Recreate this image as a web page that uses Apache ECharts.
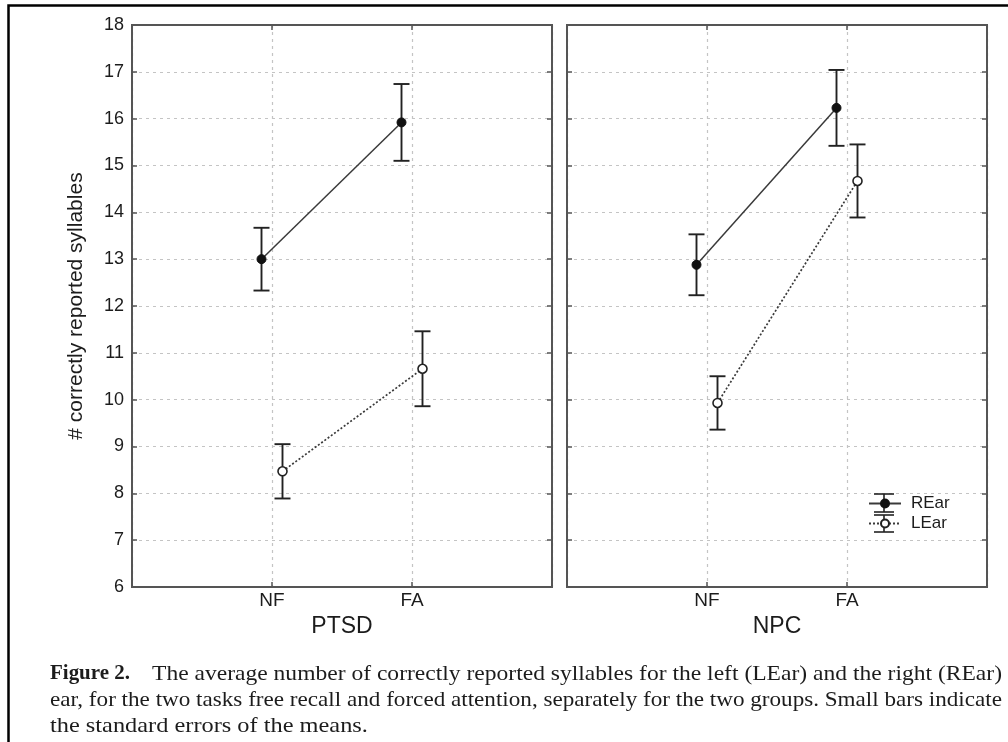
<!DOCTYPE html>
<html>
<head>
<meta charset="utf-8">
<script src="https://cdn.jsdelivr.net/npm/echarts@6/dist/echarts.min.js"></script>
<style>
html,body{margin:0;padding:0;background:#fff;}
#chart{width:1008px;height:742px;}
</style>
</head>
<body>
<div id="chart"></div>
<script>
// ---- data ----
const categories = ['NF', 'FA'];
const groups = ['PTSD', 'NPC'];
const seriesNames = ['REar', 'LEar'];
const yMin = 6, yMax = 18, yStep = 1;

const ptsdREar = [13.00, 15.92];
const ptsdREarSE = [0.67, 0.82];
const ptsdLEar = [8.47, 10.66];
const ptsdLEarSE = [0.58, 0.80];

const npcREar = [12.88, 16.23];
const npcREarSE = [0.65, 0.81];
const npcLEar = [9.93, 14.67];
const npcLEarSE = [0.57, 0.78];

const yLabel = '# correctly reported syllables';
const captionBold = 'Figure 2.';
const captionLine1 = 'The average number of correctly reported syllables for the left (LEar) and the right (REar)';
const captionLine2 = 'ear, for the two tasks free recall and forced attention, separately for the two groups. Small bars indicate';
const captionLine3 = 'the standard errors of the means.';

// ---- build ----
const chart = echarts.init(document.getElementById('chart'), null, {renderer: 'canvas'});
const dodge = 0.075;
const ink = '#1c1c1c';
const axisCol = '#555';
const gridCol = '#c4c4c4';
const gridLefts = [132, 567];
const gridW = 420, gridTop = 25, gridH = 562;

const grids = gridLefts.map(l => ({left: l, top: gridTop, width: gridW, height: gridH, show: false}));

const xAxes = [], yAxes = [];
groups.forEach((g, gi) => {
  xAxes.push({
    type: 'value', gridIndex: gi, min: 0, max: categories.length + 1, interval: 1,
    position: 'bottom',
    name: g, nameLocation: 'middle', nameGap: 28,
    nameTextStyle: {fontFamily: 'Liberation Sans', fontSize: 23, color: ink},
    axisLine: {show: true, onZero: false, lineStyle: {color: axisCol, width: 2}},
    axisTick: {show: true, inside: true, length: 5, lineStyle: {color: axisCol, width: 1.5}},
    axisLabel: {margin: 4, fontFamily: 'Liberation Sans', fontSize: 19, color: ink,
      formatter: v => (v >= 1 && v <= categories.length) ? categories[v - 1] : ''},
    splitLine: {show: true, lineStyle: {color: gridCol, type: [3, 4], width: 1.2}}
  });
  xAxes.push({
    type: 'value', gridIndex: gi, min: 0, max: categories.length + 1, interval: 1,
    position: 'top',
    axisLine: {show: true, onZero: false, lineStyle: {color: axisCol, width: 2}},
    axisTick: {show: true, inside: true, length: 5, lineStyle: {color: axisCol, width: 1.5}},
    axisLabel: {show: false}, splitLine: {show: false}
  });
  yAxes.push({
    type: 'value', gridIndex: gi, min: yMin, max: yMax, interval: yStep,
    position: 'left',
    name: gi === 0 ? yLabel : '', nameLocation: 'middle', nameGap: 45,
    nameTextStyle: {fontFamily: 'Liberation Sans', fontSize: 21, color: ink},
    axisLine: {show: true, onZero: false, lineStyle: {color: axisCol, width: 2}},
    axisTick: {show: true, inside: true, length: 5, lineStyle: {color: axisCol, width: 1.5}},
    axisLabel: {show: gi === 0, margin: 8, fontFamily: 'Liberation Sans', fontSize: 18, color: ink},
    splitLine: {show: true, lineStyle: {color: gridCol, type: [3, 4], width: 1.2}}
  });
  yAxes.push({
    type: 'value', gridIndex: gi, min: yMin, max: yMax, interval: yStep,
    position: 'right',
    axisLine: {show: true, onZero: false, lineStyle: {color: axisCol, width: 2}},
    axisTick: {show: true, inside: true, length: 5, lineStyle: {color: axisCol, width: 1.5}},
    axisLabel: {show: false}, splitLine: {show: false}
  });
});

const panels = [
  {gi: 0, r: ptsdREar, rse: ptsdREarSE, l: ptsdLEar, lse: ptsdLEarSE},
  {gi: 1, r: npcREar, rse: npcREarSE, l: npcLEar, lse: npcLEarSE}
];

function errSeries(vals, se, off, gi) {
  return {
    type: 'custom', xAxisIndex: gi * 2, yAxisIndex: gi * 2, z: 3, silent: true,
    encode: {x: 0, y: [1, 2]},
    data: vals.map((v, i) => [i + 1 + off, v - se[i], v + se[i]]),
    renderItem: (params, api) => {
      const x = api.value(0);
      const lo = api.coord([x, api.value(1)]);
      const hi = api.coord([x, api.value(2)]);
      const w = 8;
      const st = {stroke: '#222', lineWidth: 1.9};
      return {type: 'group', children: [
        {type: 'line', shape: {x1: lo[0], y1: lo[1], x2: hi[0], y2: hi[1]}, style: st},
        {type: 'line', shape: {x1: lo[0] - w, y1: lo[1], x2: lo[0] + w, y2: lo[1]}, style: st},
        {type: 'line', shape: {x1: hi[0] - w, y1: hi[1], x2: hi[0] + w, y2: hi[1]}, style: st}
      ]};
    }
  };
}

const series = [];
panels.forEach(p => {
  series.push(errSeries(p.r, p.rse, -dodge, p.gi));
  series.push(errSeries(p.l, p.lse, dodge, p.gi));
  series.push({
    name: seriesNames[0], type: 'line', xAxisIndex: p.gi * 2, yAxisIndex: p.gi * 2, z: 5,
    data: p.r.map((v, i) => [i + 1 - dodge, v]),
    symbol: 'circle', symbolSize: 9,
    itemStyle: {color: '#111', borderColor: '#111', borderWidth: 1},
    lineStyle: {color: '#3a3a3a', width: 1.5, type: 'solid'},
    emphasis: {disabled: true}
  });
  series.push({
    name: seriesNames[1], type: 'line', xAxisIndex: p.gi * 2, yAxisIndex: p.gi * 2, z: 5,
    data: p.l.map((v, i) => [i + 1 + dodge, v]),
    symbol: 'circle', symbolSize: 9,
    itemStyle: {color: '#fff', borderColor: '#222', borderWidth: 1.6},
    lineStyle: {color: '#3a3a3a', width: 1.7, type: [2, 2]},
    emphasis: {disabled: true}
  });
});

// caption helpers
const mctx = document.createElement('canvas').getContext('2d');
function measure(text, font) { mctx.font = font; return mctx.measureText(text).width; }
const capSize = 21;
const capFont = capSize + 'px "Liberation Serif"';
const capBoldFont = 'bold ' + capSize + 'px "Liberation Serif"';
function capText(text, x, y, targetW, bold) {
  const f = bold ? capBoldFont : capFont;
  const s = targetW ? targetW / measure(text, f) : 1.16;
  return {type: 'text', x: x, y: y, scaleX: s, scaleY: 1, silent: true,
    style: {text: text, fontFamily: 'Liberation Serif', fontSize: capSize,
      fontWeight: bold ? 'bold' : 'normal', fill: ink, align: 'left', verticalAlign: 'middle'}};
}

// legend error-bar glyphs (decoration of the legend keys)
const lgX = 884, lgHalf = 10;
function lgBar(y1, y2) {
  const st = {stroke: '#222', lineWidth: 1.6};
  return [
    {type: 'line', silent: true, z: 200, shape: {x1: lgX, y1: y1, x2: lgX, y2: y2}, style: st},
    {type: 'line', silent: true, z: 200, shape: {x1: lgX - lgHalf, y1: y1, x2: lgX + lgHalf, y2: y1}, style: st},
    {type: 'line', silent: true, z: 200, shape: {x1: lgX - lgHalf, y1: y2, x2: lgX + lgHalf, y2: y2}, style: st}
  ];
}

const option = {
  backgroundColor: '#fff',
  animation: false,
  grid: grids,
  xAxis: xAxes,
  yAxis: yAxes,
  legend: {
    data: seriesNames, orient: 'vertical', left: 868, top: 495, itemGap: 3, padding: 0,
    itemWidth: 32, itemHeight: 10, selectedMode: false, z: 210,
    textStyle: {fontFamily: 'Liberation Sans', fontSize: 17, color: ink, padding: [0, 0, 0, 5]}
  },
  series: series,
  graphic: [
    {type: 'rect', left: 6, top: 3, silent: true,
      shape: {x: 0, y: 0, width: 1010, height: 750},
      style: {fill: 'none', stroke: '#000', lineWidth: 2.5}},
    {type: 'rect', silent: true, z: 100,
      shape: {x: gridLefts[0], y: gridTop, width: gridW, height: gridH},
      style: {fill: 'none', stroke: axisCol, lineWidth: 2}},
    {type: 'rect', silent: true, z: 100,
      shape: {x: gridLefts[1], y: gridTop, width: gridW, height: gridH},
      style: {fill: 'none', stroke: axisCol, lineWidth: 2}},
    ...lgBar(494, 512),
    ...lgBar(515, 532),
    capText(captionBold, 50, 674, 80, true),
    capText(captionLine1, 152, 674, 850, false),
    capText(captionLine2, 50, 700, 952, false),
    capText(captionLine3, 50, 726, 0, false)
  ]
};
chart.setOption(option);
</script>
</body>
</html>
